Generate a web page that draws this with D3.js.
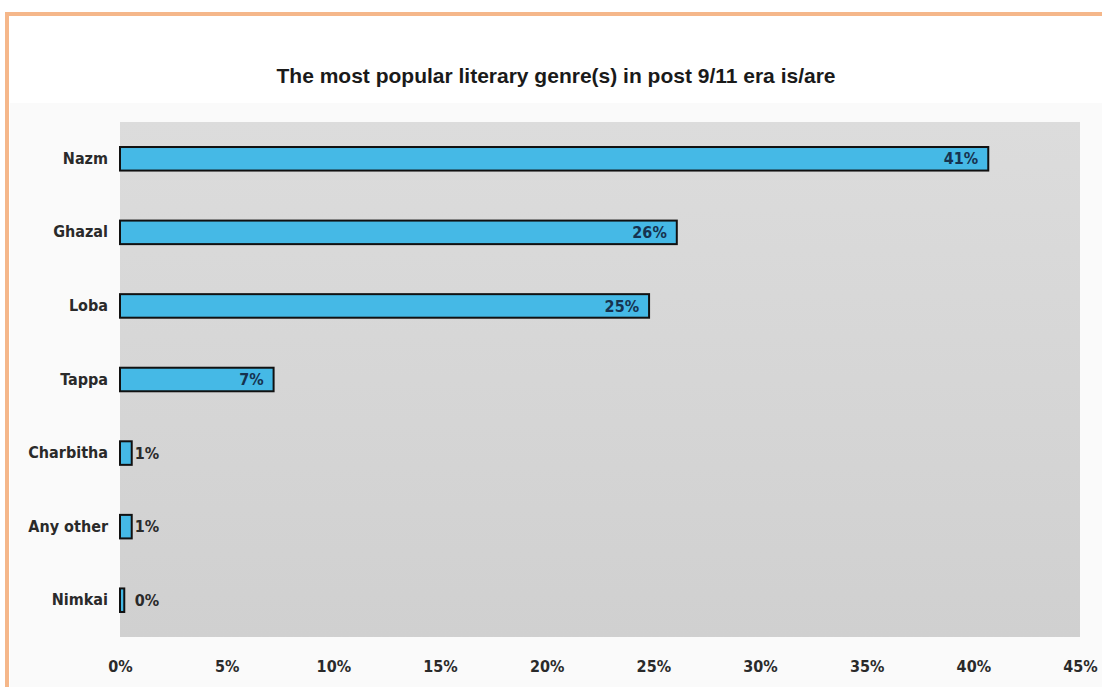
<!DOCTYPE html>
<html>
<head>
<meta charset="utf-8">
<script src="https://cdn.jsdelivr.net/npm/d3@7"></script>
<style>
  body { margin: 0; background: #fff; }
  svg { display: block; }
</style>
</head>
<body>
<div id="chart"></div>
<script>
// chart data
const genres = ["Nazm", "Ghazal", "Loba", "Tappa", "Charbitha", "Any other", "Nimkai"];
const shares = [40.7, 26.1, 24.8, 7.2, 0.55, 0.55, 0.2];
const shareLabels = ["41%", "26%", "25%", "7%", "1%", "1%", "0%"];
const xTicks = [0, 5, 10, 15, 20, 25, 30, 35, 40, 45];
const title = "The most popular literary genre(s) in post 9/11 era is/are";

(function() {
    const width = 1102
    const height = 687
    const plot = {left: 120, right: 1080, top: 122, bottom: 637}
    const condensed = "'Liberation Sans Narrow', 'DejaVu Sans Condensed', 'Roboto Condensed', sans-serif"

    const svg = d3.select("#chart")
        .append("svg")
        .attr("width", width)
        .attr("height", height)

    // orange frame (right and bottom run off the picture)
    svg.append("rect")
        .attr("x", 7).attr("y", 14)
        .attr("width", width + 20).attr("height", height + 20)
        .attr("fill", "#fff")
        .attr("stroke", "#f5b78a")
        .attr("stroke-width", 4)

    // chart area
    svg.append("rect")
        .attr("x", 10).attr("y", 103)
        .attr("width", width).attr("height", height)
        .attr("fill", "#fafafa")

    // gradient for plot background
    const grad = svg.append("defs").append("linearGradient")
        .attr("id", "bg").attr("x1", 0).attr("y1", 0).attr("x2", 0).attr("y2", 1)
    grad.append("stop").attr("offset", "0%").attr("stop-color", "#dcdcdc")
    grad.append("stop").attr("offset", "100%").attr("stop-color", "#d0d0d0")

    svg.append("rect")
        .attr("x", plot.left).attr("y", plot.top)
        .attr("width", plot.right - plot.left).attr("height", plot.bottom - plot.top)
        .attr("fill", "url(#bg)")

    svg.append("text")
        .attr("x", 556).attr("y", 83)
        .attr("text-anchor", "middle")
        .style("font-family", "'Liberation Sans', Arial, sans-serif")
        .style("font-weight", "bold")
        .style("font-size", "21px")
        .attr("fill", "#1a1a1a")
        .text(title)

    const x = d3.scaleLinear().domain([0, 45]).range([plot.left, plot.right])
    const y = d3.scaleBand().domain(genres).range([plot.top, plot.bottom]).paddingInner(0.68).paddingOuter(0.34)

    const data = genres.map((g, i) => ({name: g, value: shares[i], label: shareLabels[i]}))

    // x axis tick labels
    const xAxis = svg.append("g")
        .attr("transform", `translate(0,${plot.bottom})`)
        .call(d3.axisBottom(x).tickValues(xTicks).tickFormat(d => d + "%").tickSize(0).tickPadding(24))
    xAxis.select(".domain").remove()
    xAxis.selectAll("text")
        .style("font-family", condensed)
        .style("font-size", "16px")
        .style("font-weight", "bold")
        .attr("fill", "#2a2a2a")

    // y axis labels
    const yAxis = svg.append("g")
        .attr("transform", `translate(${plot.left},0)`)
        .call(d3.axisLeft(y).tickSize(0).tickPadding(12))
    yAxis.select(".domain").remove()
    yAxis.selectAll("text")
        .style("font-family", condensed)
        .style("font-size", "16px")
        .style("font-weight", "bold")
        .attr("fill", "#2a2a2a")

    // bars
    svg.selectAll("rect.bar")
        .data(data)
        .join("rect")
        .attr("class", "bar")
        .attr("x", x(0))
        .attr("y", d => y(d.name))
        .attr("width", d => x(d.value) - x(0))
        .attr("height", y.bandwidth())
        .attr("fill", "#45b9e6")
        .attr("stroke", "#111")
        .attr("stroke-width", 2)

    // value labels: inside the bar end for long bars, just past it for tiny ones
    svg.selectAll("text.val")
        .data(data)
        .join("text")
        .attr("class", "val")
        .attr("x", d => d.value > 3 ? x(d.value) - 10 : Math.max(x(d.value), x(0.55)) + 3)
        .attr("y", d => y(d.name) + y.bandwidth() / 2)
        .attr("dy", "0.35em")
        .attr("text-anchor", d => d.value > 3 ? "end" : "start")
        .style("font-family", condensed)
        .style("font-size", "16px")
        .style("font-weight", "bold")
        .attr("fill", d => d.value > 3 ? "#16324f" : "#2a2a2a")
        .text(d => d.label)
})();
</script>
</body>
</html>
